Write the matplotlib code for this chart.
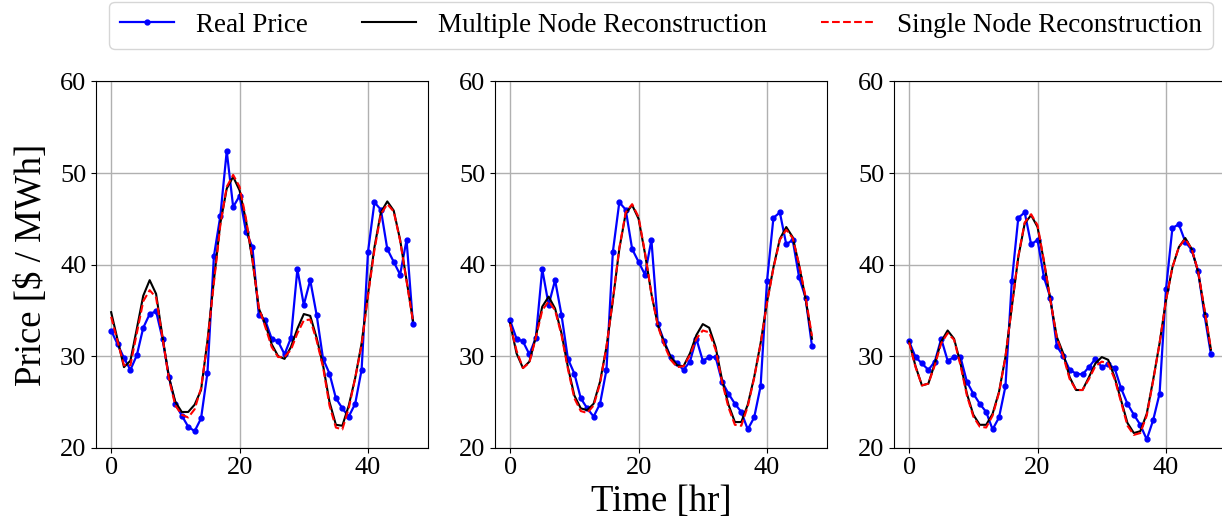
import numpy as np
import matplotlib
matplotlib.use("Agg")
from matplotlib import pyplot as plt

plt.rcParams['font.family'] = ['Liberation Serif', 'DejaVu Serif']

# prix reels, par jour (fenetre glissante de 48 h, decalage de 24 h)
day1 = [32.8, 31.3, 29.8, 28.5, 30.1, 33.1, 34.6, 34.9, 31.9, 27.7, 24.8, 23.5,
        22.3, 21.8, 23.2, 28.2, 40.9, 45.3, 52.4, 46.3, 47.5, 43.6, 41.9, 34.5]
day2 = [33.9, 31.9, 31.6, 30.2, 32.0, 39.5, 35.6, 38.3, 34.5, 29.7, 28.1, 25.4,
        24.3, 23.4, 24.8, 28.5, 41.4, 46.8, 46.0, 41.7, 40.3, 38.9, 42.7, 33.5]
day3 = [31.6, 29.9, 29.2, 28.5, 29.4, 31.9, 29.5, 29.9, 29.9, 27.2, 25.9, 24.8,
        23.9, 22.0, 23.3, 26.7, 38.2, 45.1, 45.7, 42.2, 42.7, 38.6, 36.4, 31.1]
day4 = [30.0, 28.5, 28.1, 28.0, 28.8, 29.7, 28.8, 29.1, 28.7, 26.5, 24.8, 23.6,
        22.5, 20.9, 23.0, 25.9, 37.3, 44.0, 44.4, 42.5, 41.6, 39.3, 34.5, 30.2]

real_1 = day1 + day2
real_2 = day2 + day3
real_3 = day3 + day4

multi_1 = [34.8, 31.8, 28.8, 29.5, 33.0, 36.6, 38.3, 36.8, 32.1, 27.7, 25.0, 23.9,
           23.9, 24.7, 26.3, 31.7, 38.3, 44.5, 48.3, 49.6, 48.1, 44.8, 40.5, 35.2,
           33.5, 31.3, 30.0, 29.7, 31.0, 33.0, 34.6, 34.4, 32.0, 29.0, 25.0, 22.5,
           22.4, 24.6, 27.6, 31.4, 36.8, 41.9, 45.7, 46.9, 45.9, 42.7, 38.3, 33.9]
single_1 = [34.3, 31.6, 29.0, 29.0, 32.5, 36.0, 37.2, 36.4, 32.0, 27.5, 24.6, 23.6,
            23.3, 24.2, 26.5, 31.5, 38.0, 44.3, 48.5, 49.8, 48.5, 45.0, 40.6, 35.3,
            33.2, 31.0, 29.9, 29.9, 30.7, 32.5, 33.9, 34.0, 31.7, 28.8, 24.6, 22.2,
            22.0, 24.3, 27.6, 31.2, 36.6, 41.6, 45.5, 46.6, 45.8, 42.6, 38.2, 33.8]

multi_2 = [33.6, 30.3, 28.7, 29.4, 32.1, 35.4, 36.5, 35.2, 32.5, 28.8, 25.7, 24.3,
           24.1, 24.8, 27.2, 31.0, 36.1, 41.7, 45.6, 46.5, 45.0, 41.2, 36.8, 33.4,
           31.4, 29.9, 29.0, 28.9, 30.3, 32.3, 33.5, 33.1, 31.0, 27.4, 24.7, 22.8,
           22.8, 24.7, 27.7, 31.4, 35.9, 39.7, 42.8, 44.1, 43.0, 39.9, 36.3, 31.9]
single_2 = [33.5, 30.6, 28.7, 29.3, 32.0, 35.0, 36.0, 35.0, 32.3, 28.6, 25.4, 24.0,
            23.8, 24.6, 27.0, 31.0, 36.2, 41.8, 45.7, 46.6, 45.2, 41.3, 36.8, 33.3,
            31.2, 29.6, 28.8, 28.9, 30.1, 31.9, 32.8, 32.6, 30.7, 27.2, 24.4, 22.5,
            22.4, 24.5, 27.6, 31.3, 35.8, 39.6, 42.7, 43.8, 42.9, 40.0, 36.5, 32.2]

multi_3 = [31.6, 28.9, 26.8, 27.0, 29.2, 31.6, 32.8, 31.9, 29.2, 25.9, 23.6, 22.5,
           22.5, 23.7, 26.1, 29.9, 35.4, 40.8, 44.5, 45.4, 44.1, 40.3, 36.1, 32.1,
           30.3, 27.7, 26.3, 26.3, 27.7, 29.2, 29.9, 29.6, 27.7, 25.2, 22.7, 21.6,
           21.8, 23.7, 27.4, 31.4, 36.1, 39.7, 41.9, 42.9, 41.7, 39.2, 35.0, 30.7]
single_3 = [31.5, 28.8, 26.8, 27.0, 29.0, 31.4, 32.5, 31.8, 29.0, 25.7, 23.4, 22.3,
            22.2, 23.5, 26.0, 29.9, 35.4, 40.9, 44.6, 45.5, 44.3, 40.4, 36.1, 32.0,
            30.0, 27.5, 26.3, 26.3, 27.5, 28.9, 29.4, 29.2, 27.5, 25.0, 22.4, 21.4,
            21.6, 23.5, 27.3, 31.4, 36.1, 39.7, 41.9, 42.8, 41.7, 39.3, 35.1, 30.8]

hours = np.arange(48)
panels = [(real_1, multi_1, single_1), (real_2, multi_2, single_2), (real_3, multi_3, single_3)]

fig = plt.figure(figsize=(12.22, 5.19), dpi=100)
lefts = [0.0786, 0.4051, 0.7316]
axes = []
for left, (real, multi, single) in zip(lefts, panels):
    ax = fig.add_axes([left, 0.1374, 0.2717, 0.7056])
    ax.plot(hours, real, '.-', color='blue', lw=1.6, ms=7, label='Real Price')
    ax.plot(hours, multi, '-', color='black', lw=1.5, label='Multiple Node Reconstruction')
    ax.plot(hours, single, '--', color='red', lw=1.5, label='Single Node Reconstruction')
    ax.set_ylim(20, 60)
    ax.set_yticks([20, 30, 40, 50, 60])
    ax.set_xticks([0, 20, 40])
    ax.tick_params(labelsize=19)
    ax.grid(True, color='#b0b0b0', lw=1)
    axes.append(ax)

axes[0].set_ylabel('Price [$ / MWh]', fontsize=26.5, labelpad=8)
axes[1].set_xlabel('Time [hr]', fontsize=26.5, labelpad=4)

handles, labels = axes[0].get_legend_handles_labels()
fig.legend(handles, labels, loc='upper center', ncol=3, fontsize=19.5,
           bbox_to_anchor=(661 / 1222, 1 - 2 / 519), bbox_transform=fig.transFigure,
           borderaxespad=0, columnspacing=2.0)

fig.savefig('out.png', dpi=100)
